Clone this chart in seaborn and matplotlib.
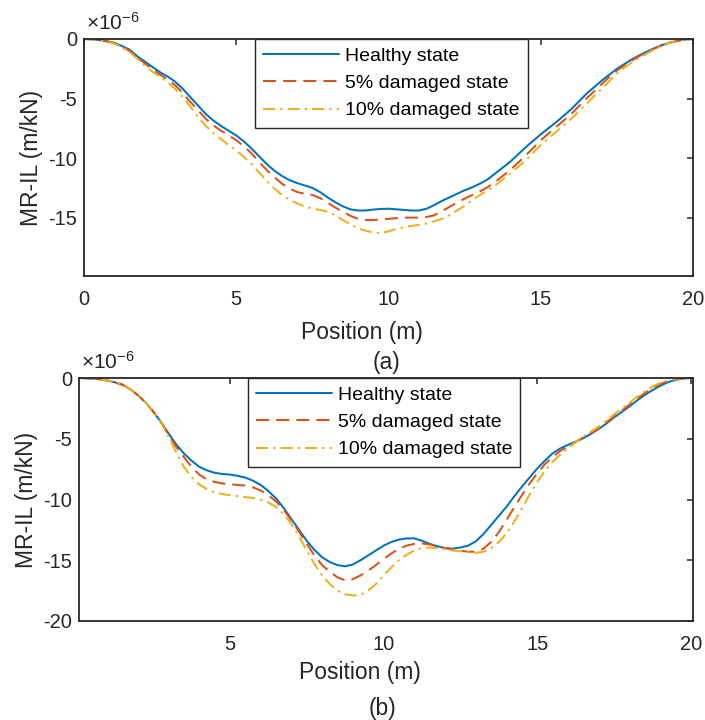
import numpy as np
import pandas as pd
import matplotlib
matplotlib.use('Agg')
import matplotlib.pyplot as plt
import seaborn as sns

sns.set_theme(style='white')
plt.rcParams['font.family'] = ['Liberation Sans', 'DejaVu Sans']
plt.rcParams['mathtext.fontset'] = 'custom'
plt.rcParams['mathtext.rm'] = 'Liberation Sans'
plt.rcParams['axes.unicode_minus'] = False

TXT = '#262626'
states = ['Healthy state', '5% damaged state', '10% damaged state']
colors = {'Healthy state': '#0072BD', '5% damaged state': '#D95319', '10% damaged state': '#EDB120'}
dashes = {'Healthy state': '', '5% damaged state': (6.5, 3.5), '10% damaged state': (6, 2.5, 1.2, 2.5)}

# sample positions (m), shared by all curves
pos = [0, 0.25, 0.5, 0.75, 1, 1.25, 1.5, 1.75, 2, 2.25, 2.5, 2.75, 3, 3.25, 3.5, 3.75,
       4, 4.25, 4.5, 4.75, 5, 5.25, 5.5, 5.75, 6, 6.25, 6.5, 6.75, 7, 7.25, 7.5, 7.75,
       8, 8.25, 8.5, 8.75, 9, 9.25, 9.5, 9.75, 10, 10.25, 10.5, 10.75, 11, 11.25, 11.5, 11.75,
       12, 12.25, 12.5, 12.75, 13, 13.25, 13.5, 13.75, 14, 14.25, 14.5, 14.75, 15, 15.25,
       15.5, 15.75, 16, 16.25, 16.5, 16.75, 17, 17.25, 17.5, 17.75, 18, 18.25, 18.5, 18.75,
       19, 19.25, 19.5, 19.75, 20]

# Panel (a) MR-IL, units of 1e-6 m/kN
a_healthy = [0, -0.02, -0.08, -0.18, -0.33, -0.6, -0.9, -1.45, -1.9, -2.35, -2.8, -3.15,
             -3.6, -4.2, -4.9, -5.6, -6.3, -6.85, -7.3, -7.7, -8.1, -8.6, -9.2, -9.85,
             -10.5, -11.05, -11.5, -11.85, -12.1, -12.3, -12.5, -12.85, -13.3, -13.7, -14.05,
             -14.3, -14.4, -14.4, -14.32, -14.27, -14.25, -14.3, -14.35, -14.4, -14.4, -14.25,
             -13.95, -13.6, -13.3, -13.0, -12.7, -12.45, -12.15, -11.8, -11.3, -10.8, -10.3,
             -9.7, -9.1, -8.55, -8.0, -7.5, -7.0, -6.45, -5.9, -5.25, -4.6, -4.05, -3.5,
             -3.0, -2.5, -2.1, -1.7, -1.35, -1.05, -0.75, -0.5, -0.3, -0.15, -0.04, 0]
a_dmg5 = [0, -0.02, -0.08, -0.2, -0.36, -0.65, -1.0, -1.55, -2.05, -2.55, -3.0, -3.4,
          -3.9, -4.55, -5.3, -6.0, -6.7, -7.25, -7.7, -8.1, -8.5, -9.0, -9.6, -10.3,
          -11.0, -11.6, -12.15, -12.55, -12.85, -13.0, -13.1, -13.35, -13.75, -14.15, -14.5,
          -14.85, -15.1, -15.2, -15.2, -15.15, -15.1, -15.05, -15.0, -15.0, -15.0, -14.95,
          -14.8, -14.45, -14.1, -13.75, -13.4, -13.1, -12.8, -12.45, -12.0, -11.5, -11.0,
          -10.4, -9.8, -9.15, -8.5, -7.95, -7.4, -6.85, -6.3, -5.65, -5.0, -4.4, -3.8,
          -3.2, -2.65, -2.2, -1.8, -1.42, -1.1, -0.78, -0.5, -0.3, -0.15, -0.04, 0]
a_dmg10 = [0, -0.02, -0.09, -0.22, -0.4, -0.7, -1.1, -1.65, -2.25, -2.75, -3.2, -3.65,
           -4.2, -4.9, -5.7, -6.55, -7.3, -7.9, -8.4, -8.9, -9.35, -9.9, -10.5, -11.2,
           -11.9, -12.55, -13.1, -13.5, -13.8, -14.05, -14.25, -14.35, -14.5, -14.8, -15.2,
           -15.55, -15.9, -16.1, -16.25, -16.3, -16.15, -15.95, -15.8, -15.7, -15.6, -15.5,
           -15.3, -15.1, -14.8, -14.4, -14.0, -13.55, -13.1, -12.7, -12.3, -11.8, -11.3,
           -10.75, -10.2, -9.55, -8.9, -8.35, -7.8, -7.25, -6.7, -6.1, -5.45, -4.8, -4.2,
           -3.55, -2.9, -2.4, -1.95, -1.55, -1.2, -0.85, -0.55, -0.32, -0.15, -0.04, 0]

# Panel (b)
b_healthy = [0, -0.01, -0.05, -0.1, -0.2, -0.35, -0.55, -0.9, -1.4, -2.0, -2.75, -3.6,
             -4.55, -5.45, -6.2, -6.8, -7.3, -7.6, -7.8, -7.9, -7.95, -8.05, -8.2, -8.45,
             -8.8, -9.3, -9.9, -10.7, -11.6, -12.5, -13.4, -14.15, -14.75, -15.15, -15.4,
             -15.5, -15.35, -15.0, -14.6, -14.2, -13.8, -13.5, -13.3, -13.2, -13.2, -13.4,
             -13.65, -13.85, -14.0, -14.05, -13.95, -13.8, -13.45, -12.85, -12.1, -11.35,
             -10.6, -9.75, -8.95, -8.2, -7.45, -6.8, -6.2, -5.8, -5.5, -5.25, -4.95, -4.6,
             -4.2, -3.75, -3.25, -2.8, -2.35, -1.85, -1.4, -1.0, -0.65, -0.35, -0.15, -0.04, 0]
b_dmg5 = [0, -0.01, -0.05, -0.1, -0.2, -0.35, -0.55, -0.9, -1.4, -2.0, -2.75, -3.62,
          -4.65, -5.65, -6.5, -7.3, -7.95, -8.35, -8.55, -8.68, -8.75, -8.8, -8.85, -9.0,
          -9.25, -9.65, -10.15, -10.85, -11.7, -12.65, -13.65, -14.6, -15.4, -15.95, -16.4,
          -16.65, -16.55, -16.25, -15.85, -15.4, -14.9, -14.45, -14.05, -13.8, -13.65, -13.62,
          -13.7, -13.85, -14.0, -14.1, -14.2, -14.3, -14.3, -14.05, -13.5, -12.7, -11.7,
          -10.65, -9.65, -8.7, -7.85, -7.1, -6.5, -6.0, -5.65, -5.25, -4.9, -4.55, -4.15,
          -3.65, -3.15, -2.7, -2.2, -1.7, -1.25, -0.85, -0.5, -0.25, -0.1, -0.02, 0]
b_dmg10 = [0, -0.01, -0.05, -0.1, -0.2, -0.35, -0.55, -0.9, -1.4, -2.0, -2.75, -3.65,
           -4.8, -6.1, -7.3, -8.15, -8.75, -9.15, -9.4, -9.55, -9.65, -9.72, -9.8, -9.88,
           -10.0, -10.25, -10.6, -11.2, -12.0, -13.05, -14.2, -15.3, -16.25, -16.95, -17.5,
           -17.8, -17.9, -17.85, -17.5, -16.95, -16.25, -15.6, -15.0, -14.55, -14.2, -14.0,
           -13.95, -14.0, -14.1, -14.2, -14.25, -14.35, -14.4, -14.3, -14.0, -13.5, -12.8,
           -11.85, -10.75, -9.6, -8.55, -7.65, -6.9, -6.3, -5.8, -5.3, -4.8, -4.4, -4.0,
           -3.5, -3.0, -2.5, -2.05, -1.55, -1.1, -0.7, -0.4, -0.2, -0.05, -0.01, 0]


def long_df(x, series):
    parts = [pd.DataFrame({'Position': x, 'MR': y, 'State': s}) for s, y in zip(states, series)]
    return pd.concat(parts, ignore_index=True)


def draw(ax, df, xlim, ylim, xticks, yticks, leg_x, xlab_x, xlab_y, ylab_x):
    sns.lineplot(data=df, x='Position', y='MR', hue='State', style='State',
                 hue_order=states, style_order=states, palette=colors, dashes=dashes,
                 linewidth=1.45, errorbar=None, ax=ax)
    ax.set_xlim(*xlim)
    ax.set_ylim(*ylim)
    ax.set_xticks(xticks)
    ax.set_yticks(yticks)
    ax.tick_params(direction='in', length=4.5, width=1.1, top=True, right=True,
                   labelsize=14.5, colors=TXT, pad=5)
    ax.tick_params(axis='x', pad=10)
    for sp in ax.spines.values():
        sp.set_color(TXT)
        sp.set_linewidth(1.3)
    ax.set_xlabel('Position (m)', fontsize=16.5, color=TXT)
    ax.set_ylabel('MR-IL (m/kN)', fontsize=16.5, color=TXT)
    ax.xaxis.set_label_coords(xlab_x, xlab_y)
    ax.yaxis.set_label_coords(ylab_x, 0.5)
    ax.text(0.003, 1.02, r'$\times\mathregular{10^{-6}}$', transform=ax.transAxes,
            fontsize=15, color=TXT, ha='left', va='bottom')
    sns.move_legend(ax, 'upper left', bbox_to_anchor=(leg_x, 1.0), borderaxespad=0,
                    title=None, frameon=True, fancybox=False, framealpha=1,
                    edgecolor=TXT, fontsize=14, handlelength=3.9, handletextpad=0.3,
                    labelspacing=0.5, borderpad=0.42)
    leg = ax.get_legend()
    leg.get_frame().set_linewidth(1.0)
    for t in leg.get_texts():
        t.set_color('black')


fig = plt.figure(figsize=(7.05, 7.2), dpi=100)
ax1 = fig.add_axes([84 / 705, 1 - 276 / 720, 609 / 705, 237 / 720])
ax2 = fig.add_axes([79 / 705, 1 - 621 / 720, 614 / 705, 243 / 720])

draw(ax1, long_df(pos, [a_healthy, a_dmg5, a_dmg10]),
     (0, 20), (-19.9, 0), [0, 5, 10, 15, 20], [-15, -10, -5, 0],
     0.281, 0.457, -0.19, -0.068)
draw(ax2, long_df(pos, [b_healthy, b_dmg5, b_dmg10]),
     (0.09, 20.07), (-20, 0), [5, 10, 15, 20], [-20, -15, -10, -5, 0],
     0.275, 0.458, -0.163, -0.066)

fig.text(386 / 705, 1 - 362 / 720, '(a)', fontsize=16.5, color=TXT, ha='center', va='center')
fig.text(383 / 705, 1 - 709 / 720, '(b)', fontsize=16.5, color=TXT, ha='center', va='center')

fig.savefig('out.png', dpi=100)
